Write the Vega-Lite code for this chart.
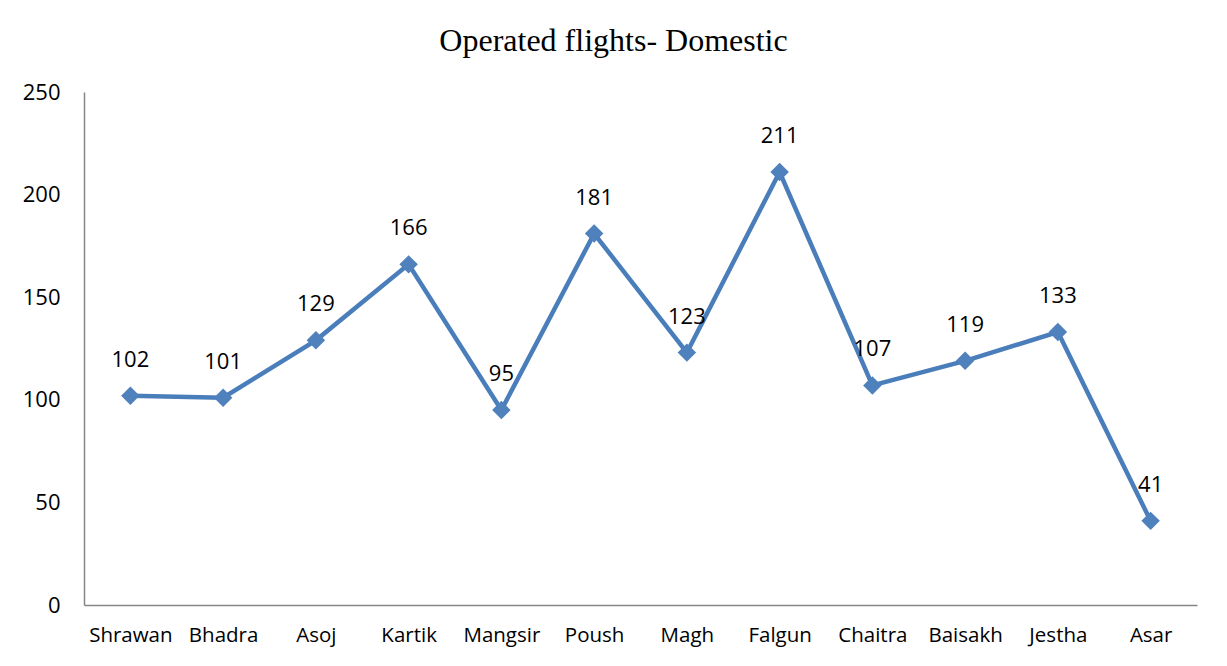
{
  "$schema": "https://vega.github.io/schema/vega-lite/v6.json",
  "width": 1113,
  "height": 513,
  "autosize": {"type": "none"},
  "padding": {"left": 84, "top": 92, "right": 30, "bottom": 61},
  "background": "white",
  "title": {
    "text": "Operated flights- Domestic",
    "font": "Liberation Serif",
    "fontSize": 32,
    "fontWeight": "normal",
    "color": "black",
    "anchor": "middle",
    "frame": "group",
    "dx": -27,
    "baseline": "alphabetic",
    "offset": -2
  },
  "data": {
    "values": [
      {"month": "Shrawan", "flights": 102},
      {"month": "Bhadra", "flights": 101},
      {"month": "Asoj", "flights": 129},
      {"month": "Kartik", "flights": 166},
      {"month": "Mangsir", "flights": 95},
      {"month": "Poush", "flights": 181},
      {"month": "Magh", "flights": 123},
      {"month": "Falgun", "flights": 211},
      {"month": "Chaitra", "flights": 107},
      {"month": "Baisakh", "flights": 119},
      {"month": "Jestha", "flights": 133},
      {"month": "Asar", "flights": 41}
    ]
  },
  "encoding": {
    "x": {
      "field": "month",
      "type": "nominal",
      "sort": null,
      "scale": {"type": "point", "padding": 0.5},
      "axis": {
        "title": null,
        "labelAngle": 0,
        "labelFont": "Open Sans",
        "labelFontSize": 20.5,
        "labelColor": "black",
        "labelPadding": 20,
        "ticks": false,
        "domainColor": "#868686",
        "domainWidth": 1.5,
        "grid": false
      }
    },
    "y": {
      "field": "flights",
      "type": "quantitative",
      "scale": {"domain": [0, 250], "nice": false},
      "axis": {
        "title": null,
        "values": [0, 50, 100, 150, 200, 250],
        "labelFont": "Open Sans",
        "labelFontSize": 22,
        "labelColor": "black",
        "labelPadding": 24,
        "ticks": false,
        "domainColor": "#868686",
        "domainWidth": 1.5,
        "grid": false
      }
    }
  },
  "layer": [
    {"mark": {"type": "line", "color": "#4A7EBB", "strokeWidth": 4.5}},
    {"mark": {"type": "point", "shape": "diamond", "filled": true, "size": 340, "color": "#4F81BD", "opacity": 1}},
    {
      "mark": {"type": "text", "font": "Open Sans", "fontSize": 22, "color": "black", "baseline": "alphabetic", "dy": -29},
      "encoding": {"text": {"field": "flights", "type": "quantitative"}}
    }
  ],
  "config": {"view": {"stroke": null}}
}
